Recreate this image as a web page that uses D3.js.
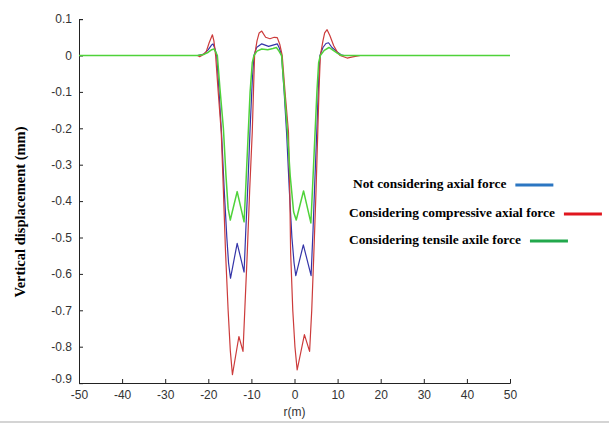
<!DOCTYPE html>
<html>
<head>
<meta charset="utf-8">
<script src="https://cdn.jsdelivr.net/npm/d3@7"></script>
<style>
  body { margin: 0; background: #fff; }
  svg { display: block; }
</style>
</head>
<body>
<div id="chart"></div>
<script>
// tick values of both axes
const xTicks = [-50, -40, -30, -20, -10, 0, 10, 20, 30, 40, 50];
const yTicks = [0.1, 0, -0.1, -0.2, -0.3, -0.4, -0.5, -0.6, -0.7, -0.8, -0.9];

// [r (m), vertical displacement (mm)]
const notAxial = [
  [-50, 0], [-22.5, 0], [-21, 0.004], [-20, 0.016], [-19.3, 0.028], [-18.9, 0.032], [-18.5, 0.02],
  [-18.05, 0], [-17.5, -0.1], [-16.9, -0.22], [-16.3, -0.37], [-15.7, -0.5], [-15.3, -0.57],
  [-14.85, -0.612], [-13.3, -0.516], [-11.7, -0.595], [-11.3, -0.48], [-10.8, -0.35], [-10.3, -0.2],
  [-9.8, -0.07], [-9.4, 0], [-8.8, 0.022], [-7.6, 0.032], [-6.0, 0.025], [-4.0, 0.032],
  [-3.5, 0.02], [-3.0, 0], [-2.4, -0.1], [-1.8, -0.22], [-1.2, -0.37], [-0.6, -0.5], [-0.1, -0.57],
  [0.3, -0.605], [2.05, -0.52], [3.85, -0.605], [4.3, -0.48], [4.7, -0.35], [5.2, -0.2], [5.6, -0.07],
  [5.9, 0], [6.6, 0.022], [7.3, 0.033], [7.9, 0.035], [8.7, 0.022], [9.9, 0.01], [10.8, 0.002],
  [11.5, 0], [50, 0]
];
const compressive = [
  [-50, 0], [-22.5, 0], [-22, -0.003], [-21.5, 0], [-20.5, 0.01], [-19.8, 0.035], [-19.05, 0.057],
  [-18.7, 0.04], [-18.3, 0], [-17.7, -0.1], [-17.0, -0.21], [-16.5, -0.37], [-16.0, -0.54],
  [-15.4, -0.7], [-14.9, -0.81], [-14.4, -0.877], [-12.9, -0.772], [-11.95, -0.813], [-11.5, -0.69],
  [-10.95, -0.54], [-10.4, -0.37], [-9.8, -0.21], [-9.5, -0.09], [-9.26, 0], [-8.7, 0.04],
  [-8.2, 0.062], [-7.6, 0.067], [-6.7, 0.05], [-5.7, 0.046], [-4.7, 0.05], [-4.0, 0.049],
  [-3.4, 0.03], [-2.85, 0], [-2.2, -0.1], [-1.4, -0.21], [-1.1, -0.37], [-0.9, -0.54], [-0.4, -0.7],
  [0.1, -0.8], [0.62, -0.864], [2.3, -0.767], [3.5, -0.813], [4.0, -0.7], [4.5, -0.54], [5.0, -0.37],
  [5.4, -0.21], [5.7, -0.09], [6.0, 0], [6.6, 0.04], [7.0, 0.062], [7.56, 0.071], [8.2, 0.055],
  [9.1, 0.027], [10.0, 0.008], [10.6, 0], [12.2, -0.007], [13.5, -0.004], [15.3, 0], [50, 0]
];
const tensile = [
  [-50, 0], [-22.5, 0], [-21, 0.003], [-20, 0.009], [-19.2, 0.016], [-18.7, 0.018], [-18.3, 0.01],
  [-17.9, 0], [-17.3, -0.09], [-16.5, -0.2], [-15.9, -0.33], [-15.4, -0.42], [-14.9, -0.452],
  [-13.3, -0.374], [-11.7, -0.457], [-11.3, -0.36], [-10.8, -0.23], [-10.3, -0.1], [-9.8, -0.02],
  [-9.4, 0], [-8.7, 0.012], [-7.6, 0.018], [-6.2, 0.016], [-5.0, 0.019], [-4.2, 0.022],
  [-3.6, 0.012], [-3.0, 0], [-2.4, -0.09], [-1.7, -0.2], [-1.0, -0.33], [-0.2, -0.43], [0.4, -0.452],
  [2.1, -0.372], [3.8, -0.46], [4.2, -0.36], [4.7, -0.23], [5.2, -0.1], [5.6, -0.02], [6.0, 0],
  [6.9, 0.014], [8.0, 0.022], [9.0, 0.014], [10.0, 0.006], [11.0, 0], [50, 0]
];

const legendLabels = ["Not considering axial force", "Considering compressive axial force", "Considering tensile axile force"];

const width = 609, height = 423;
const margin = { left: 79, right: 99, top: 19.1, bottom: 39.9 };

const svg = d3.select("#chart").append("svg")
  .attr("width", width)
  .attr("height", height);

svg.append("rect").attr("width", width).attr("height", height).attr("fill", "#fff");
// thin grey edge at the bottom of the screenshot
svg.append("rect").attr("x", 0).attr("y", 421).attr("width", width).attr("height", 2).attr("fill", "#d4d4d4");

const x = d3.scaleLinear().domain([-50, 50]).range([margin.left, width - margin.right]);
const y = d3.scaleLinear().domain([-0.9, 0.1]).range([height - margin.bottom, margin.top]);

// axes, ticks pointing inwards like MATLAB
const xAxis = svg.append("g")
  .attr("transform", `translate(0,${Math.round(y(-0.9))})`)
  .call(d3.axisBottom(x).tickValues(xTicks).tickSizeInner(-4).tickSizeOuter(-4).tickPadding(7).tickFormat(d => String(d)));

const yAxis = svg.append("g")
  .attr("transform", `translate(${x(-50)},0)`)
  .call(d3.axisLeft(y).tickValues(yTicks).tickSizeInner(-4).tickSizeOuter(-4).tickPadding(7).tickFormat(d => String(d)));

[xAxis, yAxis].forEach(g => {
  g.selectAll("path, line").attr("stroke", "#222").attr("stroke-width", 1);
  g.selectAll("text").attr("fill", "#333").style("font-family", "Liberation Sans, Arial, sans-serif").style("font-size", "12px");
});
// MATLAB puts -0.9 a bit higher so it overlaps the -50 label
yAxis.selectAll(".tick text").filter(d => d === -0.9).attr("dy", "-0.05em");

svg.append("text")
  .attr("x", x(0)).attr("y", 416)
  .attr("text-anchor", "middle")
  .style("font-family", "Liberation Sans, Arial, sans-serif").style("font-size", "12px").attr("fill", "#333")
  .text("r(m)");

svg.append("text")
  .attr("transform", `translate(25,212) rotate(-90)`)
  .attr("text-anchor", "middle")
  .style("font-family", "Liberation Serif, Times New Roman, serif").style("font-size", "14.5px").style("font-weight", "bold")
  .text("Vertical displacement (mm)");

const line = d3.line().x(d => x(d[0])).y(d => y(d[1]));

const series = [
  { data: notAxial, color: "#3434a8", w: 1.2 },
  { data: compressive, color: "#cc3b3b", w: 1.2 },
  { data: tensile, color: "#4fd23a", w: 1.5 }
];

svg.selectAll(".curve")
  .data(series)
  .enter().append("path")
  .attr("class", "curve")
  .attr("d", d => line(d.data))
  .attr("fill", "none")
  .attr("stroke", d => d.color)
  .attr("stroke-width", d => d.w)
  .attr("stroke-linejoin", "round");

// legend (placed like in the figure, swatch after each label)
const legendRows = [
  { x: 353, y: 188, color: "#2b76c2" },
  { x: 349, y: 217, color: "#e0161e" },
  { x: 349, y: 244, color: "#22a84c" }
];

legendRows.forEach((row, i) => {
  const t = svg.append("text")
    .attr("x", row.x).attr("y", row.y)
    .style("font-family", "Liberation Serif, Times New Roman, serif").style("font-size", "13.4px").style("font-weight", "bold")
    .text(legendLabels[i]);
  const w = t.node().getComputedTextLength();
  svg.append("line")
    .attr("x1", row.x + w + 9).attr("x2", row.x + w + 47)
    .attr("y1", row.y - 3).attr("y2", row.y - 3)
    .attr("stroke", row.color).attr("stroke-width", 3);
});
</script>
</body>
</html>
